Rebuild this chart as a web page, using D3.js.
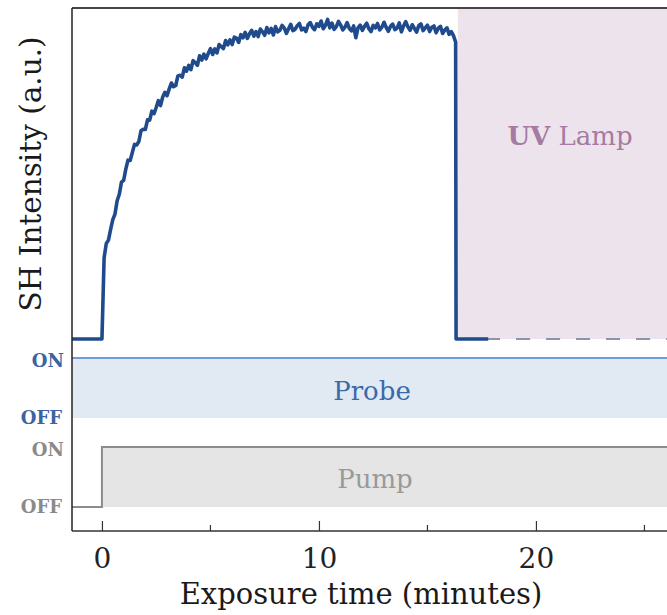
<!DOCTYPE html>
<html>
<head>
<meta charset="utf-8">
<script src="https://cdn.jsdelivr.net/npm/d3@7"></script>
<style>
  html, body { margin: 0; padding: 0; background: #ffffff; }
  svg { display: block; }
  text { font-family: "DejaVu Serif", "Liberation Serif", serif; }
</style>
</head>
<body>
<svg id="chart" width="667" height="615"></svg>
<script>
// ---- data -------------------------------------------------------------
// SH signal sampled every 0.1 min after the pump turns on (t = 0)
const shMinutes = [
  0.0, 0.1, 0.2, 0.3, 0.4, 0.5, 0.6, 0.7, 0.8, 0.9,
  1.0, 1.1, 1.2, 1.3, 1.4, 1.5, 1.6, 1.7, 1.8, 1.9,
  2.0, 2.1, 2.2, 2.3, 2.4, 2.5, 2.6, 2.7, 2.8, 2.9,
  3.0, 3.1, 3.2, 3.3, 3.4, 3.5, 3.6, 3.7, 3.8, 3.9,
  4.0, 4.1, 4.2, 4.3, 4.4, 4.5, 4.6, 4.7, 4.8, 4.9,
  5.0, 5.1, 5.2, 5.3, 5.4, 5.5, 5.6, 5.7, 5.8, 5.9,
  6.0, 6.1, 6.2, 6.3, 6.4, 6.5, 6.6, 6.7, 6.8, 6.9,
  7.0, 7.1, 7.2, 7.3, 7.4, 7.5, 7.6, 7.7, 7.8, 7.9,
  8.0, 8.1, 8.2, 8.3, 8.4, 8.5, 8.6, 8.7, 8.8, 8.9,
  9.0, 9.1, 9.2, 9.3, 9.4, 9.5, 9.6, 9.7, 9.8, 9.9,
  10.0, 10.1, 10.2, 10.3, 10.4, 10.5, 10.6, 10.7, 10.8, 10.9,
  11.0, 11.1, 11.2, 11.3, 11.4, 11.5, 11.6, 11.7, 11.8, 11.9,
  12.0, 12.1, 12.2, 12.3, 12.4, 12.5, 12.6, 12.7, 12.8, 12.9,
  13.0, 13.1, 13.2, 13.3, 13.4, 13.5, 13.6, 13.7, 13.8, 13.9,
  14.0, 14.1, 14.2, 14.3, 14.4, 14.5, 14.6, 14.7, 14.8, 14.9,
  15.0, 15.1, 15.2, 15.3, 15.4, 15.5, 15.6, 15.7, 15.8, 15.9,
  16.0, 16.1, 16.2, 16.3
];
const shValues = [
  0.000, 0.262, 0.308, 0.319, 0.354, 0.385, 0.403, 0.446, 0.467, 0.506,
  0.512, 0.548, 0.577, 0.576, 0.602, 0.628, 0.626, 0.637, 0.672, 0.677,
  0.676, 0.707, 0.706, 0.735, 0.727, 0.747, 0.769, 0.753, 0.781, 0.796,
  0.785, 0.807, 0.826, 0.814, 0.818, 0.849, 0.851, 0.845, 0.875, 0.864,
  0.883, 0.869, 0.898, 0.892, 0.883, 0.914, 0.900, 0.919, 0.904, 0.921,
  0.937, 0.918, 0.936, 0.923, 0.950, 0.943, 0.937, 0.963, 0.949, 0.965,
  0.950, 0.974, 0.971, 0.957, 0.982, 0.972, 0.989, 0.970, 0.985, 0.996,
  0.977, 0.992, 0.976, 1.000, 0.991, 0.980, 1.005, 0.988, 1.002, 0.981,
  1.008, 0.991, 0.996, 1.012, 1.004, 0.986, 1.001, 1.015, 0.995, 0.999,
  1.011, 1.018, 0.997, 1.003, 0.992, 1.014, 1.021, 1.006, 0.998, 1.017,
  1.009, 1.026, 1.001, 1.012, 1.031, 1.004, 1.019, 0.999, 1.008, 1.025,
  1.013, 0.997, 1.006, 1.021, 1.002, 0.994, 1.010, 0.972, 1.004, 1.013,
  0.996, 1.009, 1.019, 1.001, 0.992, 1.012, 1.004, 1.018, 0.997, 1.006,
  1.022, 1.005, 0.993, 1.009, 1.016, 0.998, 1.003, 1.020, 0.991, 1.010,
  1.024, 1.007, 0.996, 1.014, 1.002, 0.990, 1.011, 1.017, 0.995, 1.004,
  1.013, 0.992, 1.006, 1.010, 0.988, 1.003, 1.009, 0.986, 0.997, 1.004,
  0.983, 0.992, 0.979, 0.958
];
// flat baseline before the pump turns on and after the signal collapses
const baselineBefore = [[-1.38, 0], [0.0, 0]];
const baselineAfter = [[16.32, 0], [17.8, 0]];
const baselineDashed = [[16.32, 0], [26.1, 0]];

// on/off timing (minutes)
const probeStates = [[-1.38, 1], [26.1, 1]];
const pumpStates = [[-1.38, 0], [0.0, 0], [0.0, 1], [26.1, 1]];
const uvLampStart = 16.4;

const xDomain = [-1.38, 26.04];
const majorTicks = [0, 10, 20];
const minorTicks = [5, 15, 25];
const stateLabels = ["OFF", "ON"];

// ---- layout -------------------------------------------------------------
const svg = d3.select("#chart");
const plotLeft = 72, plotRight = 667, plotTop = 8, axisY = 531;

const x = d3.scaleLinear().domain(xDomain).range([plotLeft, plotRight]);
const y = d3.scaleLinear().domain([0, 1.068]).range([339, plotTop]);
const probeY = d3.scaleLinear().domain([0, 1]).range([418, 358]);
const pumpY = d3.scaleLinear().domain([0, 1]).range([507, 447]);

// UV lamp shaded region
svg.append("rect")
  .attr("x", x(uvLampStart)).attr("y", plotTop)
  .attr("width", plotRight - x(uvLampStart)).attr("height", y(0) - plotTop)
  .attr("fill", "#ede3ec");

const uvText = svg.append("text")
  .attr("x", 570).attr("y", 145)
  .attr("text-anchor", "middle")
  .attr("font-size", 26)
  .attr("fill", "#a57aa3");
uvText.append("tspan").attr("font-weight", "bold").text("UV");
uvText.append("tspan").text(" Lamp");

// probe band
svg.append("rect")
  .attr("x", x(probeStates[0][0])).attr("y", probeY(1))
  .attr("width", plotRight - x(probeStates[0][0])).attr("height", probeY(0) - probeY(1))
  .attr("fill", "#e1e9f3");
svg.append("path")
  .datum(probeStates)
  .attr("fill", "none")
  .attr("stroke", "#6d9fd6")
  .attr("stroke-width", 2)
  .attr("d", d3.line().x(d => x(d[0])).y(d => probeY(d[1])));
svg.append("text")
  .attr("x", 372).attr("y", 400)
  .attr("text-anchor", "middle")
  .attr("font-size", 26)
  .attr("fill", "#3a69aa")
  .text("Probe");

// pump band
svg.append("path")
  .datum(pumpStates.filter(d => d[1] === 1))
  .attr("fill", "#e5e5e5")
  .attr("stroke", "none")
  .attr("d", d3.area().x(d => x(d[0])).y0(pumpY(0)).y1(d => pumpY(d[1])));
svg.append("path")
  .datum(pumpStates)
  .attr("fill", "none")
  .attr("stroke", "#8c8c8c")
  .attr("stroke-width", 2)
  .attr("d", d3.line().x(d => x(d[0])).y(d => pumpY(d[1])));
svg.append("text")
  .attr("x", 375).attr("y", 488)
  .attr("text-anchor", "middle")
  .attr("font-size", 26)
  .attr("fill", "#999999")
  .text("Pump");

// ON / OFF labels
const stateLabel = (scale, color) => {
  stateLabels.forEach((lab, i) => {
    svg.append("text")
      .attr("x", i === 1 ? 64 : 62)
      .attr("y", scale(i) + (i === 1 ? 9 : 6))
      .attr("text-anchor", "end")
      .attr("font-size", 18)
      .attr("font-weight", "bold")
      .attr("fill", color)
      .text(lab);
  });
};
stateLabel(probeY, "#3b64a0");
stateLabel(pumpY, "#8a8a8a");

// SH signal
const line = d3.line().x(d => x(d[0])).y(d => y(d[1]));
svg.append("path")
  .datum(baselineDashed)
  .attr("fill", "none")
  .attr("stroke", "#8e93aa")
  .attr("stroke-width", 2)
  .attr("stroke-dasharray", "14,16")
  .attr("d", line);

const shSeries = baselineBefore
  .concat(shMinutes.map((t, i) => [t, shValues[i]]))
  .concat(baselineAfter);
svg.append("path")
  .datum(shSeries)
  .attr("fill", "none")
  .attr("stroke", "#1f4b8d")
  .attr("stroke-width", 3.6)
  .attr("stroke-linejoin", "round")
  .attr("d", line);

// frame: top border, left axis, bottom axis
svg.append("line")
  .attr("x1", plotLeft).attr("x2", plotRight).attr("y1", plotTop).attr("y2", plotTop)
  .attr("stroke", "#444").attr("stroke-width", 2);
svg.append("line")
  .attr("x1", plotLeft).attr("x2", plotLeft).attr("y1", plotTop).attr("y2", axisY)
  .attr("stroke", "#222").attr("stroke-width", 1.5);

const xAxis = svg.append("g").attr("transform", `translate(0,${axisY})`);
xAxis.call(d3.axisBottom(x).tickValues(majorTicks).tickSize(-10).tickPadding(0).tickFormat(d3.format("d")));
xAxis.select(".domain").remove();
xAxis.selectAll(".tick line").attr("stroke", "#333").attr("stroke-width", 1.2);
xAxis.selectAll(".tick text")
  .attr("y", 37)
  .attr("dy", null)
  .attr("fill", "#222")
  .attr("font-size", 28)
  .attr("font-family", null);
xAxis.append("g").selectAll("line")
  .data(minorTicks).join("line")
  .attr("x1", d => x(d)).attr("x2", d => x(d))
  .attr("y1", 0).attr("y2", -6)
  .attr("stroke", "#333").attr("stroke-width", 1.2);
xAxis.append("line")
  .attr("x1", plotLeft).attr("x2", plotRight).attr("y1", 0).attr("y2", 0)
  .attr("stroke", "#333").attr("stroke-width", 1.5);

// axis titles
svg.append("text")
  .attr("x", 361).attr("y", 604)
  .attr("text-anchor", "middle")
  .attr("font-size", 29)
  .attr("fill", "#1a1a1a")
  .text("Exposure time (minutes)");
svg.append("text")
  .attr("transform", "translate(41,174) rotate(-90)")
  .attr("text-anchor", "middle")
  .attr("font-size", 29.5)
  .attr("fill", "#1a1a1a")
  .text("SH Intensity (a.u.)");
</script>
</body>
</html>
